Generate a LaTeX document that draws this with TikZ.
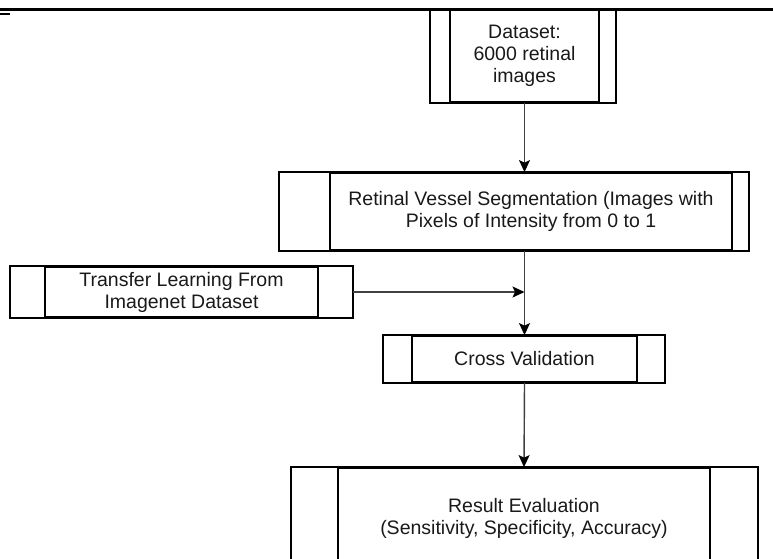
\documentclass[tikz,border=0pt]{standalone}
\usepackage{fontspec}
\setmainfont{Liberation Sans}
\usetikzlibrary{arrows.meta}

\begin{document}
\begin{tikzpicture}[
        x=1pt, y=-1pt,
        every node/.style={font=\fontsize{19.5}{22}\selectfont, text=black!90},
        block/.style={draw, line width=1.8pt, rectangle, inner sep=0pt, align=center},
        cells/.style 2 args={append after command={\pgfextra{
            \edef\boxname{\tikzlastnode}
            \draw[line width=1.8pt] ([xshift=-#1]\boxname.north west) rectangle ([xshift=#2]\boxname.south east);
            \coordinate (\boxname-e) at ([xshift=#2]\boxname.east);
        }}},
        flow/.style={draw=black!75, line width=1.4pt, -{Stealth[length=12pt, width=11pt, inset=2.5pt, color=black, fill=black]}}
    ]

        % Cornice
        \useasboundingbox (0,0) rectangle (773,558);
        \clip (0,0) rectangle (773,558);
        \draw[line width=3pt] (0,9) -- (773,9);
        \draw[line width=1.5pt] (0,14) -- (10,14);

        % Blocchi
        \node[block, cells={19}{16}, minimum width=149, minimum height=92] (data) at (524.5,56) {Dataset:\\6000 retinal\\images};
        \node[block, cells={50}{16}, minimum width=402, minimum height=77] (seg) at (531,211.5) {Retinal Vessel Segmentation (Images with\\Pixels of Intensity from 0 to 1};
        \node[block, cells={34}{34}, minimum width=273, minimum height=50] (transfer) at (181.5,292) {Transfer Learning From\\Imagenet Dataset};
        \node[block, cells={28}{27}, minimum width=225, minimum height=46] (cross) at (524.5,359) {Cross Validation};
        \node[block, cells={46}{47}, minimum width=372, minimum height=100] (result) at (524,518) {Result Evaluation\\(Sensitivity, Specificity, Accuracy)};

        % Frecce
        \draw[flow] (data.south) -- (data.south |- seg.north);
        \draw[flow] (cross.north |- seg.south) -- (cross.north);
        \draw[flow] (transfer-e) -- (transfer-e -| cross.north);
        \draw[flow] (cross.south) -- (result.north);

    \end{tikzpicture}
\end{document}
